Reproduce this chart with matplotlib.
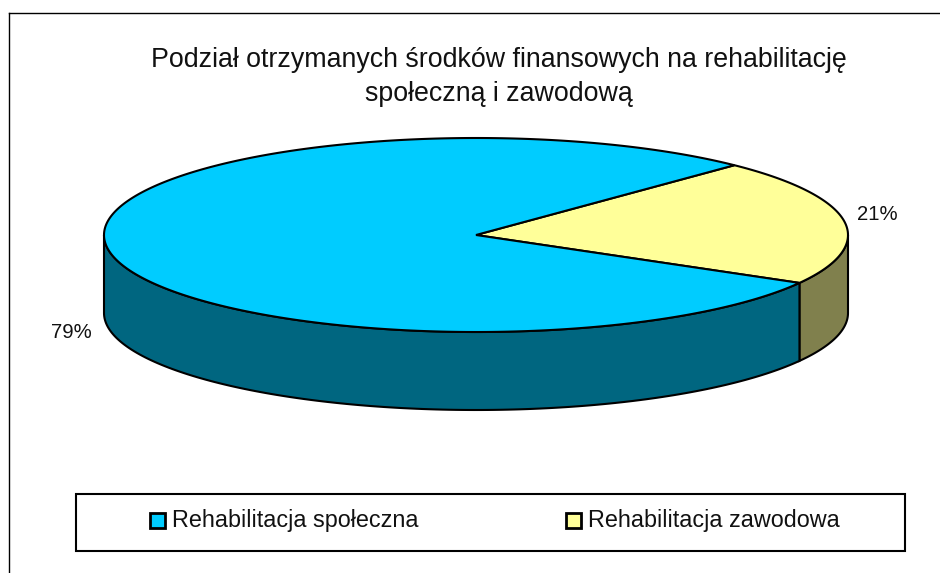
import numpy as np
import matplotlib
matplotlib.use("Agg")
import matplotlib.pyplot as plt
from matplotlib.patches import Polygon, Rectangle

title_lines = ["Podział otrzymanych środków finansowych na rehabilitację", "społeczną i zawodową"]
categories = ["Rehabilitacja społeczna", "Rehabilitacja zawodowa"]
values = [79, 21]
labels = ["79%", "21%"]
top_colors = ["#00CCFF", "#FFFF99"]
side_colors = ["#006680", "#80804D"]

# pie geometry in pixels
cx, cy = 476, 235
rx, ry = 372, 97
depth = 78
first_angle = 46  # degrees, yellow slice starts here going clockwise


def ell(a, dy=0):
    a = np.radians(a)
    return np.column_stack([cx + rx * np.cos(a), cy - ry * np.sin(a) + dy])


plt.rcParams["font.family"] = ["Liberation Sans", "DejaVu Sans"]
fig = plt.figure(figsize=(9.40, 5.73), dpi=100)
ax = fig.add_axes([0, 0, 1, 1])
ax.set_xlim(0, 940)
ax.set_ylim(573, 0)
ax.axis("off")

# outer frame, bottom runs off the picture
ax.plot([8.5, 8.5], [573, 12.5], color="black", lw=1)
ax.plot([8.5, 940], [12.5, 12.5], color="black", lw=1)

span = 360 * values[1] / sum(values)
end_yellow = first_angle - span

# side walls (only front half is visible)
a = np.linspace(end_yellow, 0, 40)
ax.add_patch(Polygon(np.vstack([ell(a), ell(a[::-1], depth)]), fc=side_colors[1], ec="black", lw=1.5))
a = np.linspace(-180, end_yellow, 150)
ax.add_patch(Polygon(np.vstack([ell(a), ell(a[::-1], depth)]), fc=side_colors[0], ec="black", lw=1.5))

# top slices
a = np.linspace(first_angle, end_yellow, 80)
ax.add_patch(Polygon(np.vstack([[cx, cy], ell(a)]), fc=top_colors[1], ec="black", lw=1.5, zorder=3))
a = np.linspace(end_yellow, first_angle - 360, 300)
ax.add_patch(Polygon(np.vstack([[cx, cy], ell(a)]), fc=top_colors[0], ec="black", lw=1.5, zorder=3))

# text
ax.text(499, 60, title_lines[0], ha="center", va="center", fontsize=19.3, color="#111111")
ax.text(499, 94, title_lines[1], ha="center", va="center", fontsize=19.3, color="#111111")
ax.text(71, 332, labels[0], ha="center", va="center", fontsize=14.6, color="#111111")
ax.text(877, 214, labels[1], ha="center", va="center", fontsize=14.6, color="#111111")

# legend box
ax.add_patch(Rectangle((75.5, 493.5), 829, 57, fc="white", ec="black", lw=1.5))
ax.add_patch(Rectangle((150, 513), 15, 15, fc=top_colors[0], ec="black", lw=2))
ax.add_patch(Rectangle((566, 513), 15, 15, fc=top_colors[1], ec="black", lw=2))
ax.text(172, 520, categories[0], ha="left", va="center", fontsize=16.8, color="#111111")
ax.text(588, 520, categories[1], ha="left", va="center", fontsize=16.8, color="#111111")

fig.savefig("out.png", dpi=100)
